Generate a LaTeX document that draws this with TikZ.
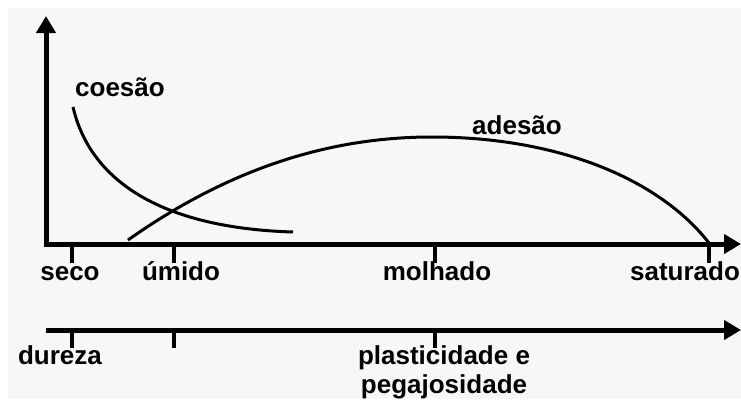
\documentclass[tikz,border=0pt]{standalone}
\usepackage{fontspec}
\setmainfont{Liberation Sans}
\usetikzlibrary{arrows.meta}
\begin{document}
\begin{tikzpicture}[x=1pt,y=-1pt,
  axis/.style={line width=5pt,-{Triangle[length=17pt,width=19pt]}},
  tickmark/.style={line width=4pt},
  curve/.style={line width=3pt},
  lbl/.style={font=\fontsize{26}{30}\selectfont\bfseries,inner sep=0pt,anchor=base}]
\useasboundingbox (0,0) rectangle (741,399);
\fill[white] (0,0) rectangle (741,399);
\fill[black!3] (8,8) rectangle (741,399);
% axes
\coordinate (ytop) at (46,16);
\coordinate (xend) at (741,244);
\draw[axis] (46,246.5) -- (ytop);
\draw[axis] (43.5,244) -- (xend);
\coordinate (b0) at (46,330);
\coordinate (bend) at (741,330);
\draw[axis] (b0) -- (bend);
% ticks top axis
\foreach \n/\x in {t1/72,t2/174,t3/435,t4/709}{
  \coordinate (\n a) at (\x,244);
  \coordinate (\n b) at (\x,263);
  \draw[tickmark] (\n a) -- (\n b);
}
% ticks bottom axis
\foreach \n/\x in {u1/72,u2/174,u3/435}{
  \coordinate (\n a) at (\x,330);
  \coordinate (\n b) at (\x,348);
  \draw[tickmark] (\n a) -- (\n b);
}
% curves
\coordinate (c0) at (73,107);
\coordinate (c1) at (293,232);
\draw[curve] (c0) .. controls (90,180) and (160,228) .. (c1);
\coordinate (a0) at (128,240);
\coordinate (am) at (432,137);
\coordinate (a1) at (709,243);
\draw[curve] (a0) .. controls (230,168) and (330,137) .. (am) .. controls (560,137) and (660,180) .. (a1);
% labels
\node[lbl] (coesao) at (120,96) {coesão};
\node[lbl] (adesao) at (517,134) {adesão};
\node[lbl] (seco) at (70,280) {seco};
\node[lbl] (umido) at (181,280) {úmido};
\node[lbl] (molhado) at (437,280) {molhado};
\node[lbl] (saturado) at (685,280) {saturado};
\node[lbl] (dureza) at (60,364) {dureza};
\node[lbl] (plast1) at (444,364) {plasticidade e};
\node[lbl] (plast2) at (444,393) {pegajosidade};
\end{tikzpicture}
\end{document}
